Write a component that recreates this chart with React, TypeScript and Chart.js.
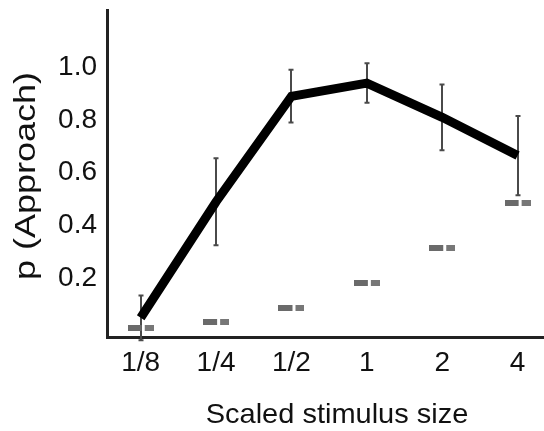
import { useEffect, useRef } from "react";
import { Chart, registerables } from "chart.js";

Chart.register(...registerables);

const categories = ["1/8", "1/4", "1/2", "1", "2", "4"];
const approachMeans = [0.05, 0.49, 0.89, 0.94, 0.81, 0.665];
const approachErrors = [0.085, 0.165, 0.1, 0.075, 0.125, 0.15];
const baselineValues = [0.01, 0.035, 0.089, 0.182, 0.313, 0.486];
const yTickValues = [0.2, 0.4, 0.6, 0.8, 1.0];
const xTitle = "Scaled stimulus size";
const yTitle = "p (Approach)";

const FONT = '"Liberation Sans", Arial, Helvetica, sans-serif';

function makeDashMarker(): HTMLCanvasElement {
  const c = document.createElement("canvas");
  c.width = 26;
  c.height = 6;
  const ctx = c.getContext("2d")!;
  ctx.fillStyle = "#6a6a6a";
  ctx.fillRect(0, 0, 14, 6);
  ctx.fillStyle = "#777777";
  ctx.fillRect(17, 0, 9, 6);
  return c;
}

const errorBarPlugin = {
  id: "errorBars",
  beforeDatasetsDraw(chart: any) {
    const { ctx } = chart;
    const x = chart.scales.x;
    const y = chart.scales.y;
    ctx.save();
    ctx.strokeStyle = "#4a4a4a";
    ctx.lineWidth = 2;
    approachMeans.forEach((m, i) => {
      const px = Math.round(x.getPixelForValue(i));
      const top = y.getPixelForValue(m + approachErrors[i]);
      const bot = y.getPixelForValue(m - approachErrors[i]);
      ctx.beginPath();
      ctx.moveTo(px, top);
      ctx.lineTo(px, bot);
      ctx.moveTo(px - 2.5, top);
      ctx.lineTo(px + 2.5, top);
      ctx.moveTo(px - 2.5, bot);
      ctx.lineTo(px + 2.5, bot);
      ctx.stroke();
    });
    ctx.restore();
  },
};

const titlePlugin = {
  id: "axisTitles",
  afterDraw(chart: any) {
    const { ctx } = chart;
    ctx.save();
    ctx.fillStyle = "#111";
    ctx.textAlign = "center";
    ctx.textBaseline = "middle";
    ctx.font = `30px ${FONT}`;
    ctx.translate(27, 176);
    ctx.rotate(-Math.PI / 2);
    ctx.scale(1.2, 1);
    ctx.fillText(yTitle, 0, 0);
    ctx.restore();

    ctx.save();
    ctx.fillStyle = "#111";
    ctx.textAlign = "center";
    ctx.textBaseline = "alphabetic";
    ctx.font = `28px ${FONT}`;
    ctx.translate(337, 423);
    ctx.scale(1.035, 1);
    ctx.fillText(xTitle, 0, 0);
    ctx.restore();
  },
};

export default function App() {
  const ref = useRef<HTMLCanvasElement | null>(null);

  useEffect(() => {
    if (!ref.current) return;
    const marker = makeDashMarker();
    const chart = new Chart(ref.current, {
      type: "line",
      data: {
        datasets: [
          {
            label: "Approach",
            data: approachMeans.map((v, i) => ({ x: i, y: v })),
            borderColor: "#000",
            borderWidth: 9,
            pointRadius: 0,
            borderJoinStyle: "miter",
            borderCapStyle: "butt",
            tension: 0,
            fill: false,
          },
          {
            label: "Baseline",
            data: baselineValues.map((v, i) => ({ x: i, y: v })),
            showLine: false,
            pointStyle: marker as any,
            pointRadius: 3,
            borderWidth: 0,
          },
        ],
      },
      options: {
        animation: false,
        responsive: false,
        layout: { autoPadding: false, padding: { top: 10, left: 0, right: 0, bottom: 0 } },
        plugins: {
          legend: { display: false },
          tooltip: { enabled: false },
        },
        scales: {
          x: {
            type: "linear",
            min: -0.447,
            max: 5.35,
            grid: { display: false, drawTicks: false },
            border: { display: true, color: "#222", width: 3 },
            afterBuildTicks: (scale: any) => {
              scale.ticks = categories.map((_, i) => ({ value: i }));
            },
            afterFit: (scale: any) => {
              scale.height = 94;
              scale.paddingLeft = 0;
              scale.paddingRight = 0;
            },
            ticks: {
              padding: 9,
              color: "#111",
              font: { family: FONT, size: 28 },
              maxRotation: 0,
              autoSkip: false,
              callback: (v: any) => categories[Math.round(Number(v))] ?? "",
            },
          },
          y: {
            type: "linear",
            min: -0.0228,
            max: 1.217,
            grid: { display: false, drawTicks: false },
            border: { display: true, color: "#222", width: 3 },
            afterBuildTicks: (scale: any) => {
              scale.ticks = yTickValues.map((v) => ({ value: v }));
            },
            afterFit: (scale: any) => {
              scale.width = 107;
              scale.paddingTop = 0;
              scale.paddingBottom = 0;
            },
            ticks: {
              padding: 10,
              color: "#111",
              font: { family: FONT, size: 28 },
              callback: (v: any) => Number(v).toFixed(1),
            },
          },
        },
      },
      plugins: [errorBarPlugin, titlePlugin],
    });
    return () => chart.destroy();
  }, []);

  return (
    <div
      style={{
        position: "fixed",
        left: 0,
        top: 0,
        width: 544,
        height: 431,
        overflow: "hidden",
        background: "#fff",
      }}
    >
      <canvas ref={ref} width={544} height={431} style={{ display: "block" }} />
    </div>
  );
}
